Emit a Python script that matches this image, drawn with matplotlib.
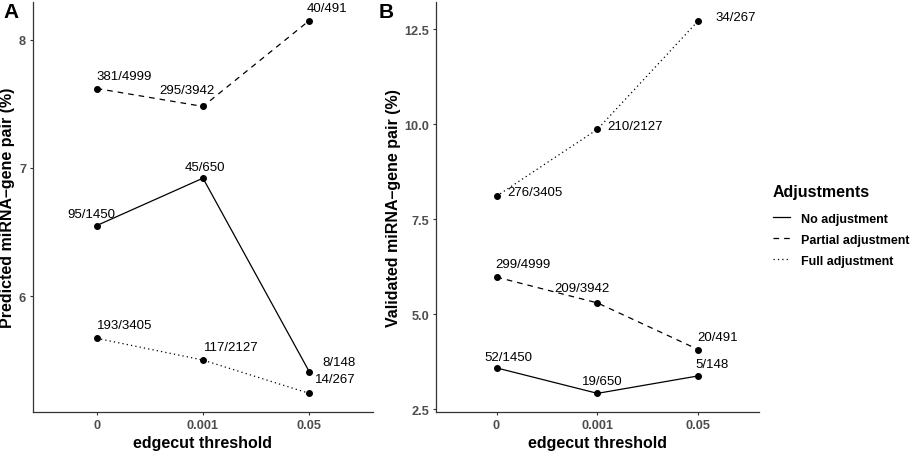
import numpy as np
import matplotlib
matplotlib.use('Agg')
import matplotlib.pyplot as plt
from matplotlib.lines import Line2D

plt.rcParams['font.family'] = ['Liberation Sans', 'DejaVu Sans']

# data
thresholds = ['0', '0.001', '0.05']
groups = ['No adjustment', 'Partial adjustment', 'Full adjustment']
styles = {'No adjustment': '-', 'Partial adjustment': (0, (4.5, 4)), 'Full adjustment': (0, (1, 2.5))}

pred_no = [6.55, 6.92, 5.41]
pred_partial = [7.62, 7.48, 8.15]
pred_full = [5.67, 5.50, 5.24]
pred_no_lab = ['95/1450', '45/650', '8/148']
pred_partial_lab = ['381/4999', '295/3942', '40/491']
pred_full_lab = ['193/3405', '117/2127', '14/267']

val_no = [3.59, 2.92, 3.38]
val_partial = [5.98, 5.30, 4.07]
val_full = [8.11, 9.87, 12.73]
val_no_lab = ['52/1450', '19/650', '5/148']
val_partial_lab = ['299/4999', '209/3942', '20/491']
val_full_lab = ['276/3405', '210/2127', '34/267']

# label offsets (pixels, text centre relative to point) -- hand placed like ggrepel
pred_off = {
    'No adjustment': [(-5, 12), (2, 11), (30, 10)],
    'Partial adjustment': [(27, 13), (-16, 16), (18, 13)],
    'Full adjustment': [(28, 13), (28, 13), (26, 14)],
}
val_off = {
    'No adjustment': [(12, 11), (5, 12), (14, 12)],
    'Partial adjustment': [(26, 13), (-16, 15), (19, 13)],
    'Full adjustment': [(38, 4), (38, 3), (37, 4)],
}

fig = plt.figure(figsize=(9.13, 4.52), dpi=100)
axA = fig.add_axes([0.0361, 0.0863, 0.3724, 0.9071])
axB = fig.add_axes([0.4775, 0.0863, 0.3538, 0.9071])

x = np.arange(1, len(thresholds) + 1)


def draw(ax, series, labels, offs, ylabel, yticks, yfmt):
    for g in groups:
        ax.plot(x, series[g], linestyle=styles[g], color='black', lw=0.9,
                marker='o', markersize=4, zorder=3)
        for xi, yi, lab, (dx, dy) in zip(x, series[g], labels[g], offs[g]):
            ax.annotate(lab, (xi, yi), xytext=(dx, dy), textcoords='offset pixels',
                        ha='center', va='center', fontsize=9.5, color='black')
    allv = np.concatenate([series[g] for g in groups])
    lo, hi = allv.min(), allv.max()
    pad = (hi - lo) * 0.05
    ax.set_ylim(lo - pad, hi + pad)
    ax.set_xlim(0.4, 3.6)
    ax.set_xticks(x)
    ax.set_xticklabels(thresholds)
    ax.set_yticks(yticks)
    ax.set_yticklabels([yfmt.format(v) for v in yticks])
    for lab in ax.get_xticklabels() + ax.get_yticklabels():
        lab.set_fontweight('bold')
        lab.set_color('#4D4D4D')
        lab.set_fontsize(9.2)
    ax.tick_params(length=2.2, width=0.8, color='#333333', pad=2.8)
    for s in ['top', 'right']:
        ax.spines[s].set_visible(False)
    for s in ['left', 'bottom']:
        ax.spines[s].set_color('#333333')
        ax.spines[s].set_linewidth(0.9)
    ax.set_xlabel('edgecut threshold', fontsize=11.5, fontweight='bold', labelpad=3)
    ax.set_ylabel(ylabel, fontsize=11.5, fontweight='bold', labelpad=2.5)


draw(axA,
     {'No adjustment': pred_no, 'Partial adjustment': pred_partial, 'Full adjustment': pred_full},
     {'No adjustment': pred_no_lab, 'Partial adjustment': pred_partial_lab, 'Full adjustment': pred_full_lab},
     pred_off, 'Predicted miRNA\u2013gene pair (%)', [6, 7, 8], '{:.0f}')
draw(axB,
     {'No adjustment': val_no, 'Partial adjustment': val_partial, 'Full adjustment': val_full},
     {'No adjustment': val_no_lab, 'Partial adjustment': val_partial_lab, 'Full adjustment': val_full_lab},
     val_off, 'Validated miRNA\u2013gene pair (%)', [2.5, 5.0, 7.5, 10.0, 12.5], '{:.1f}')

fig.text(0.004, 0.972, 'A', fontsize=15, fontweight='bold', va='center', ha='left')
fig.text(0.415, 0.972, 'B', fontsize=15, fontweight='bold', va='center', ha='left')

# legend, title drawn separately to match the ggplot spacing
fig.text(0.8467, 1 - 192 / 452, 'Adjustments', fontsize=11.5, fontweight='bold',
         ha='left', va='center')
handles = [Line2D([0], [0], color='black', lw=0.9, linestyle=styles[g]) for g in groups]
fig.legend(handles, groups, loc='upper left', bbox_to_anchor=(0.8467, 0.527),
           frameon=False, borderpad=0, borderaxespad=0, handlelength=1.36,
           handletextpad=0.88, labelspacing=0.72, prop={'weight': 'bold', 'size': 9})

fig.savefig('out.png', dpi=100)
